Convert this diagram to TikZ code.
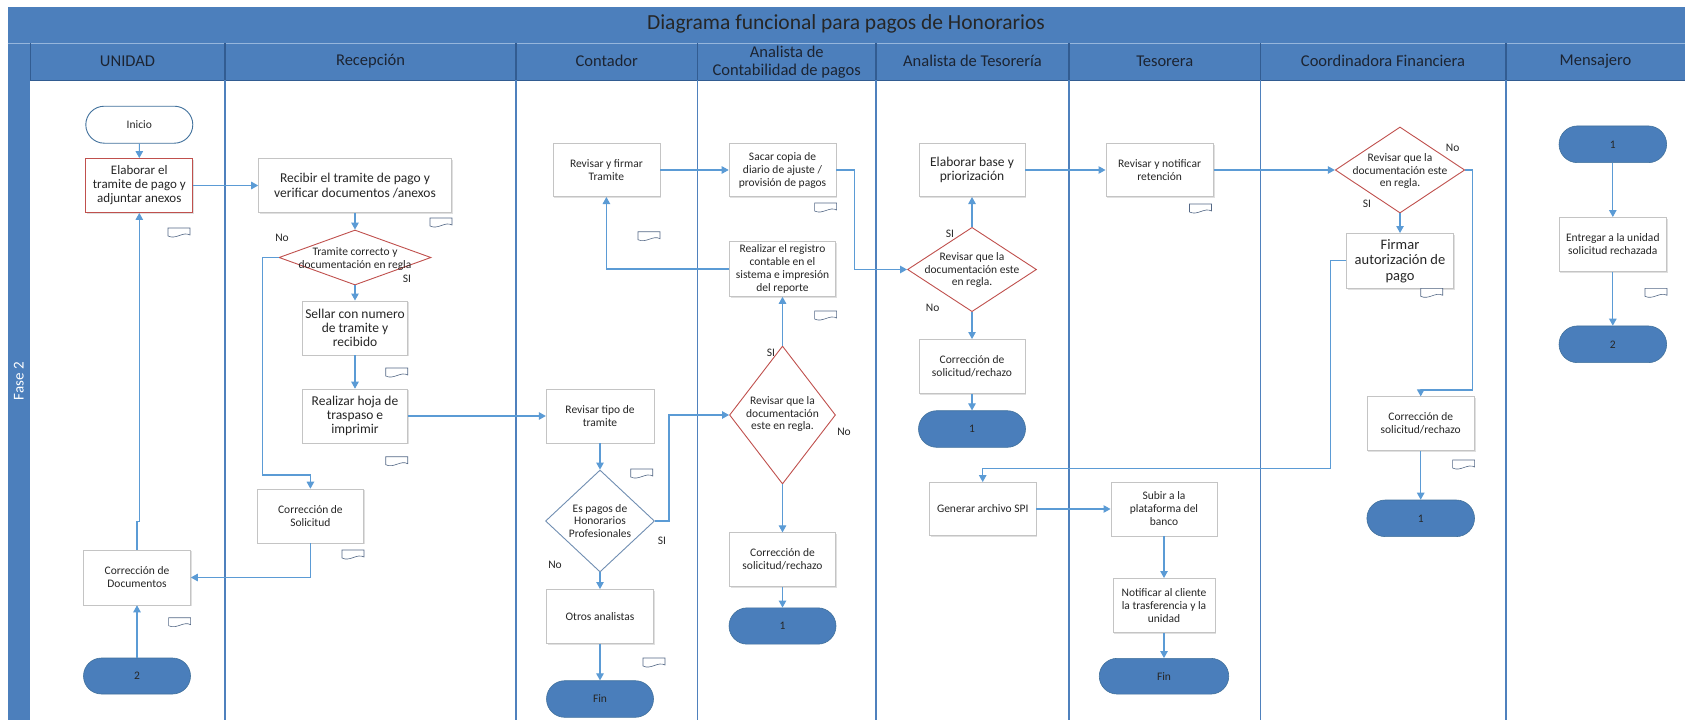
\documentclass[tikz,border=0pt]{standalone}
\usepackage{fontspec}
\setmainfont{Carlito}
\usetikzlibrary{shapes.geometric,shapes.misc,arrows.meta,shadows}

\definecolor{bandblue}{RGB}{76,127,188}
\definecolor{banddark}{RGB}{50,92,145}
\definecolor{bandlight}{RGB}{150,182,220}
\definecolor{laneline}{RGB}{79,129,189}
\definecolor{cline}{RGB}{91,155,213}
\definecolor{redline}{RGB}{192,80,77}
\definecolor{boxline}{RGB}{196,196,196}
\definecolor{termfill}{RGB}{74,126,187}
\definecolor{termedge}{RGB}{65,113,156}
\definecolor{txt}{RGB}{38,38,38}
\definecolor{hdrtxt}{RGB}{28,36,50}
\definecolor{docline}{RGB}{84,104,134}
\definecolor{diablue}{RGB}{112,142,178}

\tikzset{
  conn/.style={draw=cline, line width=1.1pt, -{Triangle[length=7pt,width=7.5pt]}},
  box/.style={rectangle, draw=boxline, fill=white, line width=0.6pt, align=center,
    inner sep=1pt, text=txt, font=\fontsize{11.5}{13}\selectfont,
    drop shadow={shadow xshift=1.2pt, shadow yshift=-1.2pt, fill=black, opacity=0.12}},
  bigbox/.style={box, font=\fontsize{13.5}{14.2}\selectfont},
  redbox/.style={box, draw=redline, line width=0.9pt, font=\fontsize{13}{14}\selectfont},
  dia/.style={diamond, draw=redline, line width=0.9pt, fill=white, inner sep=0pt},
  bluedia/.style={dia, draw=diablue},
  dtxt/.style={align=center, inner sep=0pt, text=txt, font=\fontsize{11.5}{12.8}\selectfont},
  term/.style={rounded rectangle, fill=termfill, draw=termedge, line width=0.6pt,
    inner sep=0pt, text=txt, font=\fontsize{11.5}{13}\selectfont},
  startterm/.style={term, fill=white, draw=termedge, line width=0.9pt},
  lbl/.style={inner sep=0pt, text=txt, font=\fontsize{11.5}{13}\selectfont},
  hdr/.style={inner sep=0pt, text=hdrtxt, align=center, font=\fontsize{16.5}{19}\selectfont},
  docicon/.pic={\draw[docline, line width=0.6pt, fill=white]
    (0,0) -- (22,0) -- (22,7) .. controls (15,3) and (8,12) .. (0,8) -- cycle;}
}

\begin{document}
\begin{tikzpicture}[x=1pt,y=-1pt]
\useasboundingbox (0,0) rectangle (1685,720);
\fill[white] (0,0) rectangle (1685,720);

% ---- pool frame: title band, lane headers, phase band ----
\fill[bandblue] (7.5,6.5) rectangle (1685,80);
\fill[bandblue] (7.5,43) rectangle (30,720);
\draw[bandlight, line width=0.8pt] (7.5,43) -- (1685,43);
\draw[banddark, line width=0.8pt] (30,43) -- (30,80) -- (1685,80);
\foreach \xl in {225,516,697.5,876,1069,1260.5,1506}{
  \draw[banddark, line width=1.2pt] (\xl,43) -- (\xl,80);
  \draw[laneline, line width=1.6pt] (\xl,80) -- (\xl,720);
}

\node[inner sep=0pt, text=txt, font=\fontsize{21.5}{24}\selectfont] (title) at (846,24)
  {Diagrama funcional para pagos de Honorarios};
\node[inner sep=0pt, text=white, rotate=90, font=\fontsize{15}{17}\selectfont] (fase) at (18.75,381) {Fase 2};

\node[hdr] (hUnidad) at (127.5,61) {UNIDAD};
\node[hdr] (hRecep) at (370.5,61) {Recepción};
\node[hdr] (hCont) at (606.75,61) {Contador};
\node[hdr, font=\fontsize{16.5}{18}\selectfont] (hAnaCont) at (786.75,62) {Analista de\\Contabilidad de pagos};
\node[hdr] (hAnaTes) at (972.5,61) {Analista de Tesorería};
\node[hdr] (hTes) at (1164.75,61) {Tesorera};
\node[hdr] (hCoord) at (1383,61) {Coordinadora Financiera};
\node[hdr] (hMens) at (1595.5,61) {Mensajero};

% ---- UNIDAD ----
\node[startterm, minimum width=107pt, minimum height=37pt] (inicio) at (139.3,124.7) {Inicio};
\node[redbox, minimum width=107pt, minimum height=54pt] (elab) at (139.3,185.5)
  {Elaborar el\\tramite de pago y\\adjuntar anexos};
\node[box, minimum width=107pt, minimum height=55pt] (corrdoc) at (137,577.5) {Corrección de\\Documentos};
\node[term, minimum width=107pt, minimum height=36pt] (dosA) at (137,676) {2};
\pic at (168,228) {docicon};
\pic at (168.6,617.7) {docicon};

% ---- Recepcion ----
\node[bigbox, minimum width=193pt, minimum height=54pt] (recibir) at (355,185.5)
  {Recibir el tramite de pago y\\verificar documentos /anexos};
\node[dia, minimum width=152pt, minimum height=55pt] (d1) at (355,257.5) {};
\node[dtxt] (d1t) at (355,259) {Tramite correcto y\\documentación en regla};
\node[lbl] (d1no) at (282,238) {No};
\node[lbl] (d1si) at (407,279) {SI};
\node[bigbox, minimum width=105pt, minimum height=54pt] (sellar) at (355,327.8)
  {Sellar con numero\\de tramite y\\recibido};
\node[bigbox, minimum width=105pt, minimum height=54pt] (hoja) at (355,416)
  {Realizar hoja de\\traspaso e\\imprimir};
\node[box, minimum width=106.5pt, minimum height=54pt] (corrsol) at (310.4,516) {Corrección de\\Solicitud};
\pic at (430,218) {docicon};
\pic at (385.7,368) {docicon};
\pic at (385.7,456.7) {docicon};
\pic at (342,550) {docicon};

% ---- Contador ----
\node[box, minimum width=107pt, minimum height=53.4pt] (revfirmar) at (606.4,170) {Revisar y firmar\\Tramite};
\node[box, minimum width=107.7pt, minimum height=54pt] (revtipo) at (600,416) {Revisar tipo de\\tramite};
\node[bluedia, minimum width=109pt, minimum height=102pt] (d2) at (600,521) {};
\node[dtxt] (d2t) at (600,521) {Es pagos de\\Honorarios\\Profesionales};
\node[lbl] (d2si) at (662,540.7) {SI};
\node[lbl] (d2no) at (555,565) {No};
\node[box, minimum width=107pt, minimum height=54pt] (otros) at (600,616.3) {Otros analistas};
\node[term, minimum width=107pt, minimum height=36.6pt] (fin1) at (600,699) {Fin};
\pic at (638,231.7) {docicon};
\pic at (630.7,469) {docicon};
\pic at (643,658) {docicon};

% ---- Analista de Contabilidad de pagos ----
\node[box, minimum width=107pt, minimum height=53.4pt] (sacar) at (782.5,170)
  {Sacar copia de\\diario de ajuste /\\provisión de pagos};
\node[box, minimum width=106pt, minimum height=55pt] (registro) at (782.5,269)
  {Realizar el registro\\contable en el\\sistema e impresión\\del reporte};
\node[dia, minimum width=106pt, minimum height=138pt] (d3) at (782.5,415) {};
\node[dtxt] (d3t) at (782.5,414) {Revisar que la\\documentación\\este en regla.};
\node[lbl] (d3si) at (771,353.3) {SI};
\node[lbl] (d3no) at (844,431.7) {No};
\node[box, minimum width=106pt, minimum height=54pt] (corr3) at (782.5,559.7) {Corrección de\\solicitud/rechazo};
\node[term, minimum width=107pt, minimum height=36.3pt] (uno1) at (782.5,626) {1};
\pic at (814.6,203) {docicon};
\pic at (814.6,311) {docicon};

% ---- Analista de Tesoreria ----
\node[bigbox, minimum width=106pt, minimum height=53.4pt] (elabbase) at (972,170) {Elaborar base y\\priorización};
\node[dia, minimum width=129pt, minimum height=84.3pt] (d4) at (972,269.5) {};
\node[dtxt] (d4t) at (972,270) {Revisar que la\\documentación este\\en regla.};
\node[lbl] (d4si) at (950,234) {SI};
\node[lbl] (d4no) at (932.7,308.3) {No};
\node[box, minimum width=106pt, minimum height=54pt] (corr4) at (972,366.3) {Corrección de\\solicitud/rechazo};
\node[term, minimum width=107pt, minimum height=36.6pt] (uno2) at (972,429) {1};
\node[box, minimum width=106.7pt, minimum height=53.3pt] (generar) at (982.7,509) {Generar archivo SPI};

% ---- Tesorera ----
\node[box, minimum width=107.6pt, minimum height=53.4pt] (revnot) at (1159.6,170) {Revisar y notificar\\retención};
\node[box, minimum width=106.4pt, minimum height=53.7pt] (subir) at (1164,509) {Subir a la\\plataforma del\\banco};
\node[box, minimum width=101.6pt, minimum height=54.4pt] (notif) at (1164,605.5)
  {Notificar al cliente\\la trasferencia y la\\unidad};
\node[term, minimum width=129.5pt, minimum height=35.7pt] (fin2) at (1164,676.2) {Fin};
\pic at (1189.5,204) {docicon};

% ---- Coordinadora Financiera ----
\node[dia, minimum width=129.5pt, minimum height=86pt] (d5) at (1400,170) {};
\node[dtxt] (d5t) at (1400,171) {Revisar que la\\documentación este\\en regla.};
\node[lbl] (d5no) at (1452.6,148.3) {No};
\node[lbl] (d5si) at (1367,204) {SI};
\node[box, minimum width=106.6pt, minimum height=55pt, font=\fontsize{14.5}{15.5}\selectfont] (firmar) at (1400,260.8)
  {Firmar\\autorización de\\pago};
\node[box, minimum width=107.6pt, minimum height=54pt] (corr5) at (1420.7,423.7) {Corrección de\\solicitud/rechazo};
\node[term, minimum width=107.6pt, minimum height=36.6pt] (uno3) at (1420.7,518.3) {1};
\pic at (1420.7,288.3) {docicon};
\pic at (1452.6,460) {docicon};

% ---- Mensajero ----
\node[term, minimum width=107.6pt, minimum height=36.7pt] (uno4) at (1612.8,144.3) {1};
\node[box, minimum width=107.6pt, minimum height=54.4pt] (entregar) at (1612.8,244.5)
  {Entregar a la unidad\\solicitud rechazada};
\node[term, minimum width=107.6pt, minimum height=36.7pt] (dos2) at (1612.8,344.3) {2};
\pic at (1645,288.3) {docicon};

% ---- connectors ----
\draw[conn] (inicio) -- (elab);
\draw[conn] (elab.east) -- (recibir.west);
\draw[conn] (recibir.south) -- (d1.north);
\draw[conn] (d1.south) -- (sellar.north);
\draw[conn] (sellar.south) -- (hoja.north);
\draw[conn] (d1.west) -- ++(-16,0) -- ++(0,217.5) -| (corrsol.north);
\draw[conn] (hoja.east) -- (revtipo.west);
\draw[conn] (corrsol.south) |- (corrdoc.east);
\draw[conn] (dosA.north) -- (corrdoc.south);
\draw[conn] (corrdoc.north) -- ++(0,-28) -| (elab.south);

\draw[conn] (revtipo.south) -- (d2.north);
\draw[conn] (d2.east) -- ++(14,0) |- (d3.west);
\draw[conn] (d2.south) -- (otros.north);
\draw[conn] (otros.south) -- (fin1.north);
\draw[conn] (revfirmar.east) -- (sacar.west);
\draw[conn] (registro.west) -| (revfirmar.south);
\draw[conn] (d3.north) -- (registro.south);
\draw[conn] (d3.south) -- (corr3.north);
\draw[conn] (corr3.south) -- (uno1.north);

\draw[conn] (sacar.east) -- ++(18,0) |- (d4.west);
\draw[conn] (d4.north) -- (elabbase.south);
\draw[conn] (d4.south) -- (corr4.north);
\draw[conn] (corr4.south) -- (uno2.north);
\draw[conn] (elabbase.east) -- (revnot.west);
\draw[conn] (revnot.east) -- (d5.west);
\draw[conn] (d5.south) -- (firmar.north);
\draw[conn] (d5.east) -- ++(7,0) -- ++(0,220) -| (corr5.north);
\draw[conn] (corr5.south) -- (uno3.north);
\draw[conn] (firmar.west) -- ++(-16,0) -- ++(0,207.5) -| (generar.north);
\draw[conn] (generar.east) -- (subir.west);
\draw[conn] (subir.south) -- (notif.north);
\draw[conn] (notif.south) -- (fin2.north);
\draw[conn] (uno4.south) -- (entregar.north);
\draw[conn] (entregar.south) -- (dos2.north);
\end{tikzpicture}
\end{document}
